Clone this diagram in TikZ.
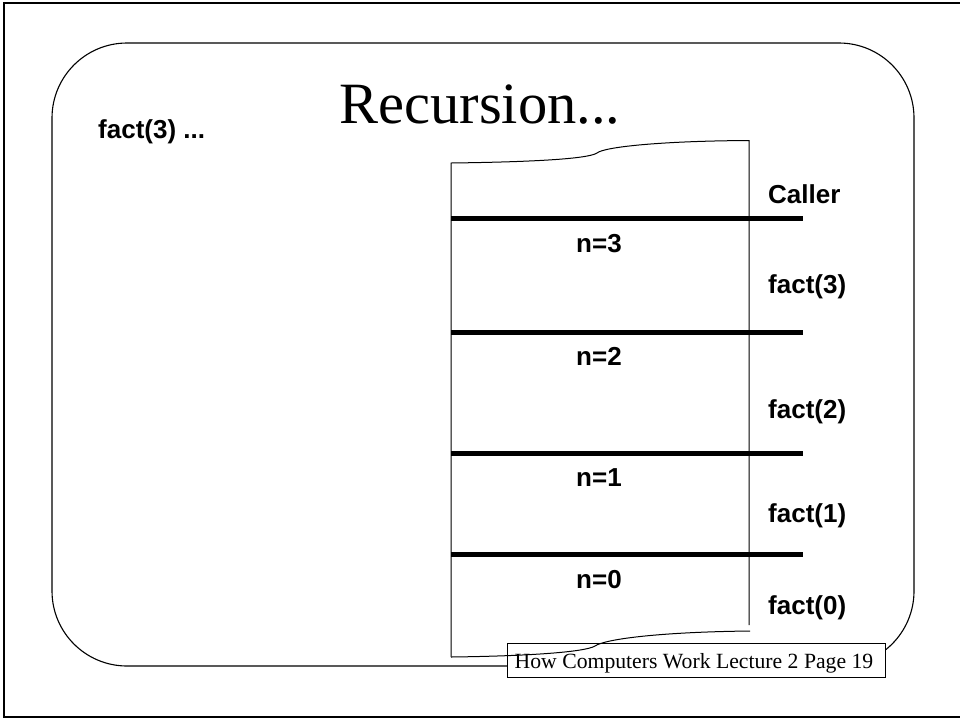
\documentclass[tikz,border=0pt]{standalone}
\usepackage{fontspec}
\newfontfamily\labfont{Liberation Sans}
\newfontfamily\serfont{Liberation Serif}
\begin{document}
\begin{tikzpicture}[x=1pt,y=-1pt,
  lab/.style={font=\labfont\bfseries\fontsize{26}{30}\selectfont, inner sep=0pt},
  frame/.style={line width=1.1pt},
  sep/.style={line width=5pt},
  thin/.style={line width=1pt}]
\useasboundingbox (0,0) rectangle (960,721);

% outer slide border (right side lies off the page)
\draw[line width=2.2pt] (966,3) -- (4,3) -- (4,717) -- (966,717);

% rounded content frame
\draw[frame, rounded corners=75pt] (52,43) rectangle (914,666);

% title
\node[anchor=base, inner sep=0pt, font=\serfont\fontsize{58.5}{62}\selectfont] (title) at (480,123) {Recursion...};
\node[lab, anchor=base west] (call) at (98,138) {fact(3) ...};

% footer box
\node[draw, thin, fill=white, minimum width=378pt, minimum height=34pt, inner sep=0pt] (footer) at (696,660) {};
\node[anchor=base, inner sep=0pt, font=\serfont\fontsize{21.7}{24}\selectfont] (footertext) at (694,668) {How Computers Work Lecture 2 Page 19};

% stack body with torn top and bottom edges
\coordinate (tl) at (451,163);
\coordinate (tr) at (749,140.5);
\coordinate (bl) at (451,657);
\coordinate (br) at (750,631);
\coordinate (re) at (749,625);
\draw[thin] (bl) -- (tl)
  .. controls (530,162) and (588,159) .. (597,153)
  .. controls (604,147) and (660,141) .. (tr) -- (re);
\draw[thin] (bl)
  .. controls (530,656) and (585,652) .. (595,646)
  .. controls (605,639) and (660,632) .. (br);

% frame separators
\foreach \yy in {218.5,332,453,554}
  \draw[sep] (451,\yy) -- (803,\yy);

% frame contents
\node[lab, anchor=base] (n3) at (599,252) {n=3};
\node[lab, anchor=base] (n2) at (599,365) {n=2};
\node[lab, anchor=base] (n1) at (599,486) {n=1};
\node[lab, anchor=base] (n0) at (599,588) {n=0};

% frame names
\node[lab, anchor=base west] (caller) at (768,203) {Caller};
\node[lab, anchor=base west] (f3) at (768,293) {fact(3)};
\node[lab, anchor=base west] (f2) at (768,418) {fact(2)};
\node[lab, anchor=base west] (f1) at (768,522) {fact(1)};
\node[lab, anchor=base west] (f0) at (768,614) {fact(0)};
\end{tikzpicture}
\end{document}
